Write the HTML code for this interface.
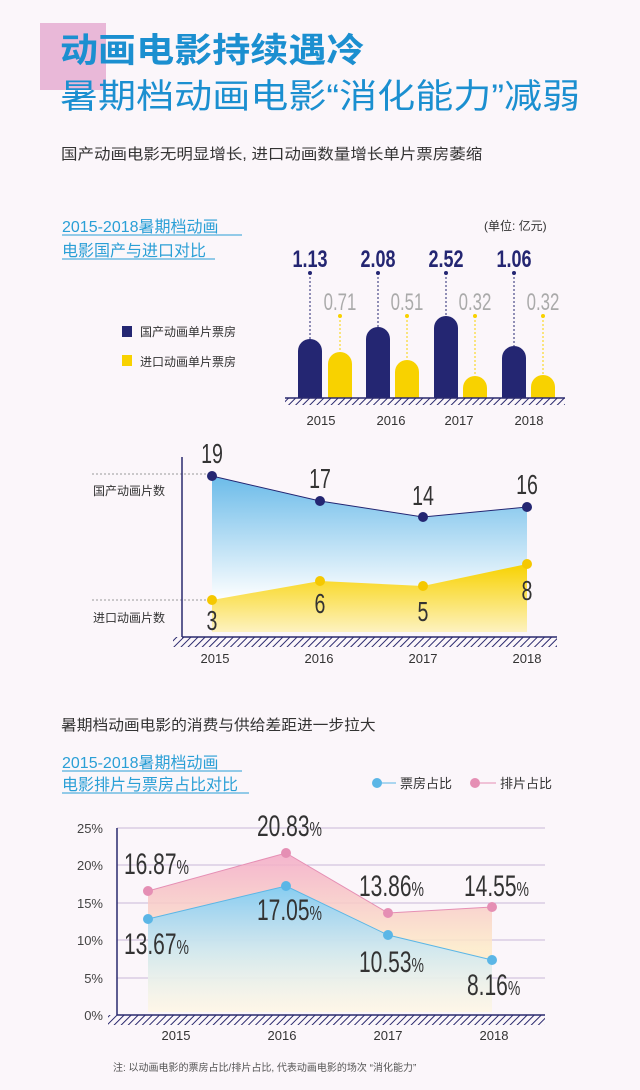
<!DOCTYPE html>
<html><head><meta charset="utf-8"><style>
html,body{margin:0;padding:0;background:#fbf6fa;}
svg{display:block}
.cn{font-family:"Liberation Sans","Noto Sans CJK SC",sans-serif;}
.num{font-family:"Liberation Sans Narrow","Liberation Sans",sans-serif;}
</style></head><body>
<svg width="640" height="1090" viewBox="0 0 640 1090" xmlns="http://www.w3.org/2000/svg">
<defs>
<pattern id="hatch" width="5" height="5" patternUnits="userSpaceOnUse" patternTransform="rotate(45)">
<rect width="5" height="5" fill="#fbf6fa"/><line x1="0" y1="0" x2="0" y2="5" stroke="#2b2a6e" stroke-width="2"/></pattern>
<linearGradient id="gb" x1="0" y1="0" x2="0" y2="1"><stop offset="0" stop-color="#6bbbe9"/><stop offset="0.8" stop-color="#ffffff"/><stop offset="1" stop-color="#ffffff"/></linearGradient>
<linearGradient id="gy" x1="0" y1="0" x2="0" y2="1"><stop offset="0" stop-color="#f8d200"/><stop offset="1" stop-color="#fdf2c0"/></linearGradient>
<linearGradient id="gb2" x1="0" y1="0" x2="0" y2="1"><stop offset="0" stop-color="#86cdf0"/><stop offset="1" stop-color="#ffffff" stop-opacity="0.5"/></linearGradient>
<linearGradient id="gp" x1="0" y1="0" x2="0" y2="1"><stop offset="0" stop-color="#f3a9c6"/><stop offset="0.6" stop-color="#fdebc8"/></linearGradient>
</defs>
<rect x="0" y="0" width="640" height="1090" fill="#fbf6fa"/>
<rect x="40" y="23" width="66" height="67" fill="#e9b8d8"/>
<text transform="translate(60,62) scale(1.12,1)" class="cn" font-size="34" font-weight="bold" fill="#1b8fd0">动画电影持续遇冷</text>
<text transform="translate(60,108) scale(1.12,1)" class="cn" font-size="34" fill="#1b8fd0">暑期档动画电影“消化能力”减弱</text>
<text transform="translate(61,159) scale(1.1,1)" class="cn" font-size="15" fill="#333">国产动画电影无明显增长, 进口动画数量增长单片票房萎缩</text>
<text x="62" y="232" class="cn" font-size="16" fill="#2a9fd6">2015-2018暑期档动画</text>
<line x1="62" y1="235" x2="242" y2="235" stroke="#2a9fd6" stroke-width="1"/>
<text x="62" y="256" class="cn" font-size="16" fill="#2a9fd6">电影国产与进口对比</text>
<line x1="62" y1="259" x2="215" y2="259" stroke="#2a9fd6" stroke-width="1"/>
<text x="484" y="230" class="cn" font-size="12" fill="#333">(单位: 亿元)</text>
<rect x="122" y="326" width="10" height="11" fill="#242672"/>
<text x="140" y="336" class="cn" font-size="12" fill="#333">国产动画单片票房</text>
<rect x="122" y="355" width="10" height="11" fill="#f8d200"/>
<text x="140" y="366" class="cn" font-size="12" fill="#333">进口动画单片票房</text>
<g stroke-dasharray="2,2" stroke-width="1">
<line x1="310" y1="273" x2="310" y2="340" stroke="#242672"/><line x1="340" y1="316" x2="340" y2="352" stroke="#f8d200"/>
<line x1="378" y1="273" x2="378" y2="327" stroke="#242672"/><line x1="407" y1="316" x2="407" y2="360" stroke="#f8d200"/>
<line x1="446" y1="273" x2="446" y2="316" stroke="#242672"/><line x1="475" y1="316" x2="475" y2="376" stroke="#f8d200"/>
<line x1="514" y1="273" x2="514" y2="346" stroke="#242672"/><line x1="543" y1="316" x2="543" y2="375" stroke="#f8d200"/>
</g>
<g fill="#242672"><circle cx="310" cy="273" r="2"/><circle cx="378" cy="273" r="2"/><circle cx="446" cy="273" r="2"/><circle cx="514" cy="273" r="2"/></g>
<g fill="#f8d200"><circle cx="340" cy="316" r="2"/><circle cx="407" cy="316" r="2"/><circle cx="475" cy="316" r="2"/><circle cx="543" cy="316" r="2"/></g>
<g fill="#242672">
<path d="M298 398V351a12 12 0 0 1 24 0V398z"/><path d="M366 398V339a12 12 0 0 1 24 0V398z"/>
<path d="M434 398V328a12 12 0 0 1 24 0V398z"/><path d="M502 398V358a12 12 0 0 1 24 0V398z"/></g>
<g fill="#f8d200">
<path d="M328 398V364a12 12 0 0 1 24 0V398z"/><path d="M395 398V372a12 12 0 0 1 24 0V398z"/>
<path d="M463 398V388a12 12 0 0 1 24 0V398z"/><path d="M531 398V387a12 12 0 0 1 24 0V398z"/></g>
<rect x="285" y="398" width="280" height="7" fill="url(#hatch)"/>
<line x1="285" y1="398" x2="565" y2="398" stroke="#2b2a6e" stroke-width="1.5"/>
<g class="num" font-size="24" font-weight="bold" fill="#242672" text-anchor="middle">
<text transform="translate(310,267) scale(0.75,1)">1.13</text><text transform="translate(378,267) scale(0.75,1)">2.08</text>
<text transform="translate(446,267) scale(0.75,1)">2.52</text><text transform="translate(514,267) scale(0.75,1)">1.06</text></g>
<g class="num" font-size="24" fill="#aaa" text-anchor="middle">
<text transform="translate(340,310) scale(0.7,1)">0.71</text><text transform="translate(407,310) scale(0.7,1)">0.51</text>
<text transform="translate(475,310) scale(0.7,1)">0.32</text><text transform="translate(543,310) scale(0.7,1)">0.32</text></g>
<g class="cn" font-size="13" fill="#333" text-anchor="middle">
<text x="321" y="425">2015</text><text x="391" y="425">2016</text><text x="459" y="425">2017</text><text x="529" y="425">2018</text></g>
<!-- chart2 -->
<line x1="92" y1="474" x2="212" y2="474" stroke="#999" stroke-dasharray="2,2"/>
<line x1="92" y1="600" x2="212" y2="600" stroke="#999" stroke-dasharray="2,2"/>
<text x="93" y="495" class="cn" font-size="12" fill="#333">国产动画片数</text>
<text x="93" y="622" class="cn" font-size="12" fill="#333">进口动画片数</text>
<polygon points="212,476 320,501 423,517 527,507 527,632 212,632" fill="url(#gb)"/>
<polygon points="212,600 320,581 423,586 527,564 527,632 212,632" fill="url(#gy)"/>
<polyline points="212,476 320,501 423,517 527,507" fill="none" stroke="#242672" stroke-width="1"/>
<g fill="#242672"><circle cx="212" cy="476" r="5"/><circle cx="320" cy="501" r="5"/><circle cx="423" cy="517" r="5"/><circle cx="527" cy="507" r="5"/></g>
<g fill="#f5c800"><circle cx="212" cy="600" r="5"/><circle cx="320" cy="581" r="5"/><circle cx="423" cy="586" r="5"/><circle cx="527" cy="564" r="5"/></g>
<line x1="182" y1="457" x2="182" y2="637" stroke="#2b2a6e" stroke-width="1.5"/>
<rect x="173" y="637" width="384" height="10" fill="url(#hatch)"/>
<line x1="182" y1="637" x2="557" y2="637" stroke="#2b2a6e" stroke-width="1.5"/>
<g class="num" font-size="28" fill="#333" text-anchor="middle">
<text transform="translate(212,463) scale(0.7,1)">19</text><text transform="translate(320,488) scale(0.7,1)">17</text>
<text transform="translate(423,505) scale(0.7,1)">14</text><text transform="translate(527,494) scale(0.7,1)">16</text>
<text transform="translate(212,630) scale(0.7,1)">3</text><text transform="translate(320,613) scale(0.7,1)">6</text>
<text transform="translate(423,621) scale(0.7,1)">5</text><text transform="translate(527,600) scale(0.7,1)">8</text></g>
<g class="cn" font-size="13" fill="#333" text-anchor="middle">
<text x="215" y="663">2015</text><text x="319" y="663">2016</text><text x="423" y="663">2017</text><text x="527" y="663">2018</text></g>
<!-- section 2 -->
<text transform="translate(61,730) scale(1.05,1)" class="cn" font-size="15" fill="#333">暑期档动画电影的消费与供给差距进一步拉大</text>
<text x="62" y="768" class="cn" font-size="16" fill="#2a9fd6">2015-2018暑期档动画</text>
<line x1="62" y1="771" x2="242" y2="771" stroke="#2a9fd6" stroke-width="1"/>
<text x="62" y="790" class="cn" font-size="16" fill="#2a9fd6">电影排片与票房占比对比</text>
<line x1="62" y1="793" x2="249" y2="793" stroke="#2a9fd6" stroke-width="1"/>
<line x1="377" y1="783" x2="396" y2="783" stroke="#5bb6e6"/><circle cx="377" cy="783" r="5" fill="#5bb6e6"/>
<text x="400" y="788" class="cn" font-size="13" fill="#333">票房占比</text>
<line x1="475" y1="783" x2="496" y2="783" stroke="#e58fb4"/><circle cx="475" cy="783" r="5" fill="#e58fb4"/>
<text x="500" y="788" class="cn" font-size="13" fill="#333">排片占比</text>
<g stroke="#c8b8d8" stroke-width="1">
<line x1="117" y1="828" x2="545" y2="828"/><line x1="117" y1="865" x2="545" y2="865"/><line x1="117" y1="903" x2="545" y2="903"/>
<line x1="117" y1="940" x2="545" y2="940"/><line x1="117" y1="978" x2="545" y2="978"/></g>
<g class="cn" font-size="13" fill="#444" text-anchor="end">
<text x="103" y="833">25%</text><text x="103" y="870">20%</text><text x="103" y="908">15%</text>
<text x="103" y="945">10%</text><text x="103" y="983">5%</text><text x="103" y="1020">0%</text></g>
<polygon points="148,891 286,853 388,913 492,907 492,1012 148,1012" fill="url(#gp)" opacity="0.85"/>
<polygon points="148,919 286,886 388,935 492,960 492,1012 148,1012" fill="url(#gb2)"/>
<polyline points="148,891 286,853 388,913 492,907" fill="none" stroke="#e58fb4" stroke-width="1"/>
<polyline points="148,919 286,886 388,935 492,960" fill="none" stroke="#5bb6e6" stroke-width="1"/>
<g fill="#e58fb4"><circle cx="148" cy="891" r="5"/><circle cx="286" cy="853" r="5"/><circle cx="388" cy="913" r="5"/><circle cx="492" cy="907" r="5"/></g>
<g fill="#5bb6e6"><circle cx="148" cy="919" r="5"/><circle cx="286" cy="886" r="5"/><circle cx="388" cy="935" r="5"/><circle cx="492" cy="960" r="5"/></g>
<line x1="117" y1="828" x2="117" y2="1015" stroke="#2b2a6e" stroke-width="1.5"/>
<rect x="108" y="1015" width="437" height="10" fill="url(#hatch)"/>
<line x1="117" y1="1015" x2="545" y2="1015" stroke="#2b2a6e" stroke-width="1.5"/>
<g class="num" font-size="30" fill="#333">
<text transform="translate(124,874) scale(0.7,1)">16.87<tspan font-size="20">%</tspan></text>
<text transform="translate(257,836) scale(0.7,1)">20.83<tspan font-size="20">%</tspan></text>
<text transform="translate(359,896) scale(0.7,1)">13.86<tspan font-size="20">%</tspan></text>
<text transform="translate(464,896) scale(0.7,1)">14.55<tspan font-size="20">%</tspan></text>
<text transform="translate(124,954) scale(0.7,1)">13.67<tspan font-size="20">%</tspan></text>
<text transform="translate(257,920) scale(0.7,1)">17.05<tspan font-size="20">%</tspan></text>
<text transform="translate(359,972) scale(0.7,1)">10.53<tspan font-size="20">%</tspan></text>
<text transform="translate(467,995) scale(0.7,1)">8.16<tspan font-size="20">%</tspan></text></g>
<g class="cn" font-size="13" fill="#333" text-anchor="middle">
<text x="176" y="1040">2015</text><text x="282" y="1040">2016</text><text x="388" y="1040">2017</text><text x="494" y="1040">2018</text></g>
<text x="113" y="1071" class="cn" font-size="10" fill="#555">注:  以动画电影的票房占比/排片占比,  代表动画电影的场次 “消化能力”</text>
</svg>
</body></html>
